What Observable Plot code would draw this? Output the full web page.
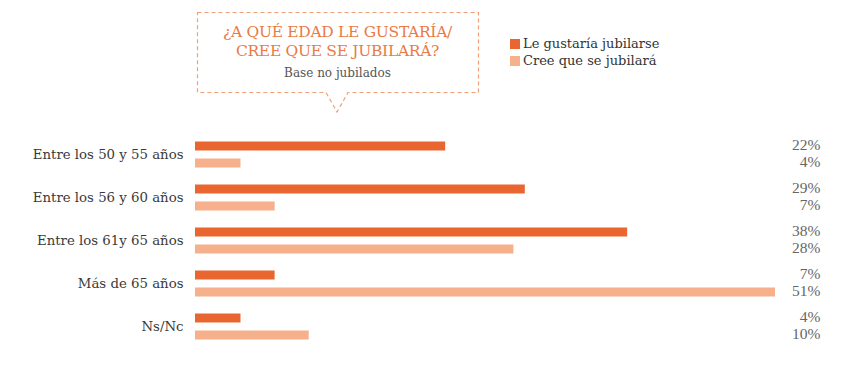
<!DOCTYPE html>
<html><head><meta charset="utf-8">
<script src="https://cdn.jsdelivr.net/npm/d3@7"></script>
<script src="https://cdn.jsdelivr.net/npm/@observablehq/plot@0.6"></script>
<style>
body{margin:0;background:#fff}
#wrap{position:relative;width:860px;height:384px;overflow:hidden}
#chart{position:absolute;left:0;top:0}
#callout{position:absolute;left:0;top:0}
.t1{position:absolute;left:197px;width:281px;text-align:center;font-family:"DejaVu Serif";color:#e97a45;font-size:15.5px;line-height:19px;top:23px;letter-spacing:-0.3px}
.t2{position:absolute;left:197px;width:281px;text-align:center;font-family:"DejaVu Serif";color:#555;font-size:12px;top:66px}
.leg{position:absolute;left:510px;font-family:"DejaVu Serif";font-size:13px;color:#333}
.leg div{height:17px;display:flex;align-items:center}
.leg span.sw{display:inline-block;width:10px;height:10px;margin-right:3px}
</style></head><body>
<div id="wrap">
<div id="chart"></div>
<svg id="callout" width="860" height="384">
<path d="M197.5 12.5 H478.5 V92.5 H348 L337 112 L326 92.5 H197.5 Z" fill="none" stroke="#f0a074" stroke-width="1.2" stroke-dasharray="4 3"/>
</svg>
<div class="t1">¿A QUÉ EDAD LE GUSTARÍA/<br>CREE QUE SE JUBILARÁ?</div>
<div class="t2">Base no jubilados</div>
<div class="leg" id="legend" style="top:35px"></div>
</div>
<script>
const categories = ["Entre los 50 y 55 años","Entre los 56 y 60 años","Entre los 61y 65 años","Más de 65 años","Ns/Nc"];
const series = ["Le gustaría jubilarse","Cree que se jubilará"];
const gustaria = [22,29,38,7,4];
const cree = [4,7,28,51,10];
const colors = ["#ea6630","#f6b08b"];

const data = categories.flatMap((c,i)=>[
  {cat:c,s:series[0],v:gustaria[i]},
  {cat:c,s:series[1],v:cree[i]}
]);
const xmax = d3.max(data,d=>d.v);

const plot = Plot.plot({
  width:860,height:384,
  marginLeft:195,marginRight:85,marginTop:132.5,marginBottom:36,
  x:{domain:[0,xmax],axis:null},
  fy:{domain:categories,padding:0,axis:null},
  y:{domain:series,axis:null,paddingInner:0.444,paddingOuter:0.42},
  color:{domain:series,range:colors},
  marks:[
    Plot.barX(data,{fy:"cat",y:"s",x1:0,x2:xmax,fill:"#e9e9e9",insetTop:4.5,insetBottom:4.5}),
    Plot.barX(data,{fy:"cat",y:"s",x:"v",fill:"s"}),
    Plot.text(categories,{fy:d=>d,text:d=>d,frameAnchor:"left",dx:-12,textAnchor:"end",fontSize:13.3,fill:"#3a3a3a",fontFamily:"DejaVu Serif"}),
    Plot.text(data,{fy:"cat",y:"s",text:d=>d.v+"%",frameAnchor:"right",dx:45,dy:-1,textAnchor:"end",fontSize:15.5,fill:"#666",fontFamily:"Liberation Serif"})
  ]
});
document.getElementById("chart").appendChild(plot);

const leg = document.getElementById("legend");
series.forEach((s,i)=>{
  const row=document.createElement("div");
  row.innerHTML=`<span class="sw" style="background:${colors[i]}"></span>${s}`;
  leg.appendChild(row);
});
</script>
</body></html>
